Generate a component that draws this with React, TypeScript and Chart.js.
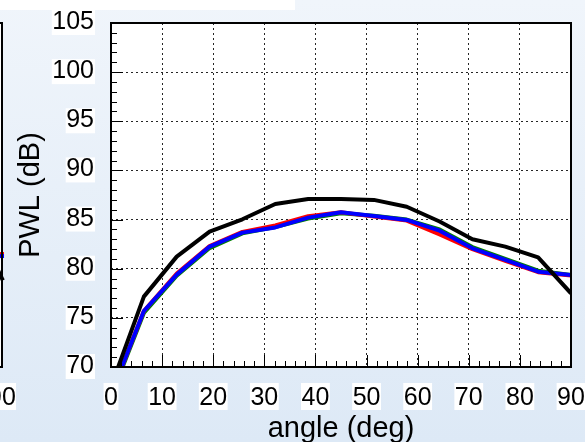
import React, { useEffect, useRef } from 'react';
import { Chart, registerables } from 'chart.js';

Chart.register(...registerables);

// ---- data ----
const angles = [0, 6.43, 12.86, 19.29, 25.71, 32.14, 38.57, 45, 51.43, 57.86, 64.29, 70.71, 77.14, 83.57, 90];
const blackPWL = [68.0, 77.16, 81.23, 83.77, 85.03, 86.59, 87.1, 87.1, 87.0, 86.3, 84.8, 83.0, 82.25, 81.16, 77.5];
const bluePWL = [67.2, 75.7, 79.4, 82.25, 83.67, 84.2, 85.2, 85.74, 85.37, 84.96, 83.87, 82.08, 80.9, 79.7, 79.36];
const redPWL = [67.2, 75.7, 79.5, 82.3, 83.75, 84.4, 85.35, 85.74, 85.3, 84.9, 83.5, 82.0, 80.8, 79.65, 79.3];
const greenPWL = [67.0, 75.5, 79.3, 82.1, 83.6, 84.25, 85.1, 85.65, 85.4, 85.0, 84.0, 82.2, 81.0, 79.8, 79.35];

// neighbouring chart, cut off at the left edge: only its last segment is visible
const leftAngles = [83.57, 90];
const leftBlack = [86.0, 79.0];
const leftBlue = [81.2, 81.3];
const leftRed = [81.4, 81.5];

const xTickLabels = [0, 10, 20, 30, 40, 50, 60, 70, 80, 90];
const yTickLabels = [70, 75, 80, 85, 90, 95, 100, 105];
const xTitle = 'angle (deg)';
const yTitle = 'PWL (dB)';

const FONT = "'Liberation Sans', Arial, Helvetica, sans-serif";

const framePlugin = {
  id: 'framePlugin',
  beforeDraw(chart: any) {
    const { ctx, chartArea: a } = chart;
    ctx.save();
    ctx.fillStyle = '#ffffff';
    ctx.fillRect(a.left, a.top, a.right - a.left, a.bottom - a.top);
    ctx.restore();
  },
  afterDatasetsDraw(chart: any) {
    const { ctx, chartArea: a, scales } = chart;
    const xs = scales.x;
    const ys = scales.y;
    ctx.save();
    ctx.strokeStyle = '#000';
    ctx.lineWidth = 1;
    // inner ticks on bottom axis
    for (let i = 0; i <= 45; i++) {
      const v = i * 2;
      const px = Math.round(xs.getPixelForValue(v)) + 0.5;
      const len = v % 10 === 0 ? 12 : 6;
      ctx.beginPath();
      ctx.moveTo(px, a.bottom);
      ctx.lineTo(px, a.bottom - len);
      ctx.stroke();
    }
    // inner ticks on left axis
    for (let v = 70; v <= 105; v++) {
      const py = Math.round(ys.getPixelForValue(v)) + 0.5;
      const len = v % 5 === 0 ? 12 : 6;
      ctx.beginPath();
      ctx.moveTo(a.left, py);
      ctx.lineTo(a.left + len, py);
      ctx.stroke();
    }
    // frame
    ctx.lineWidth = 2;
    ctx.strokeRect(a.left, a.top, a.right - a.left, a.bottom - a.top);

    // tick labels with white backdrops
    ctx.font = `25px ${FONT}`;
    ctx.textBaseline = 'alphabetic';
    ctx.textAlign = 'center';
    for (const v of xTickLabels) {
      const t = String(v);
      const w = ctx.measureText(t).width;
      const cx = xs.getPixelForValue(v);
      const base = a.bottom + 38;
      ctx.fillStyle = '#fff';
      ctx.fillRect(cx - w / 2 - 0.5, base - 22, w + 1, 27);
      ctx.fillStyle = '#000';
      ctx.fillText(t, cx, base);
    }
    ctx.textAlign = 'right';
    for (const v of yTickLabels) {
      const t = String(v);
      const w = ctx.measureText(t).width;
      const right = a.left - 17;
      const base = ys.getPixelForValue(v) + 6;
      ctx.fillStyle = '#fff';
      ctx.fillRect(right - w - 0.5, base - 19, w + 1.5, 25);
      ctx.fillStyle = '#000';
      ctx.fillText(t, right, base);
    }

    // axis titles
    ctx.font = `29px ${FONT}`;
    ctx.fillStyle = '#000';
    ctx.textAlign = 'center';
    ctx.fillText(xTitle, (a.left + a.right) / 2, a.bottom + 70);
    ctx.translate(a.left - 72, (a.top + a.bottom) / 2);
    ctx.rotate(-Math.PI / 2);
    ctx.fillText(yTitle, 0, 0);
    ctx.restore();
  },
};

type Series = { xs: number[]; ys: number[]; color: string };

function makeConfig(series: Series[], overhang: boolean): any {
  const axisCommon = {
    type: 'linear',
    grid: { color: 'rgba(0,0,0,0.85)', lineWidth: 1, drawTicks: false },
    border: { display: false, dash: [2, 3] },
  };
  return {
    type: 'line',
    data: {
      datasets: series.map((s) => ({
        data: s.xs.map((x, i) => ({ x, y: s.ys[i] })),
        borderColor: s.color,
        backgroundColor: s.color,
        borderWidth: 4,
        pointRadius: 0,
        fill: false,
        tension: 0,
        clip: overhang ? false : 0,
        borderCapStyle: overhang ? 'square' : 'butt',
        borderJoinStyle: 'round',
      })),
    },
    options: {
      responsive: false,
      animation: false,
      devicePixelRatio: 1,
      events: [],
      layout: { padding: { left: 111, top: 23, right: 14, bottom: 75 } },
      plugins: { legend: { display: false }, tooltip: { enabled: false } },
      scales: {
        x: {
          ...axisCommon,
          min: 0,
          max: 90,
          ticks: { display: false, stepSize: 10 },
          afterFit: (s: any) => { s.height = 0; },
        },
        y: {
          ...axisCommon,
          min: 70,
          max: 105,
          ticks: { display: false, stepSize: 5 },
          afterFit: (s: any) => { s.width = 0; },
        },
      },
    },
    plugins: [framePlugin],
  };
}

function PlotCanvas({ left, series, overhang }: { left: number; series: Series[]; overhang: boolean }) {
  const ref = useRef<HTMLCanvasElement | null>(null);
  useEffect(() => {
    if (!ref.current) return;
    const chart = new Chart(ref.current, makeConfig(series, overhang));
    return () => chart.destroy();
  }, []);
  return (
    <canvas
      ref={ref}
      width={585}
      height={442}
      style={{ position: 'absolute', left, top: 0, width: 585, height: 442, display: 'block' }}
    />
  );
}

export default function App() {
  const mainSeries: Series[] = [
    { xs: angles, ys: blackPWL, color: '#000000' },
    { xs: angles, ys: bluePWL, color: '#0000ff' },
    { xs: angles, ys: redPWL, color: '#ff0000' },
    { xs: angles, ys: greenPWL, color: '#008000' },
  ];
  const leftSeries: Series[] = [
    { xs: leftAngles, ys: leftBlack, color: '#000000' },
    { xs: leftAngles, ys: leftBlue, color: '#0000ff' },
    { xs: leftAngles, ys: leftRed, color: '#ff0000' },
  ];
  return (
    <>
      <style>{'body{margin:0}'}</style>
      <div
        style={{
          position: 'relative',
          width: 585,
          height: 442,
          overflow: 'hidden',
          background: 'linear-gradient(to bottom, #f0f5fb, #dde9f6)',
        }}
      >
        <div style={{ position: 'absolute', left: 0, top: 0, width: 295, height: 10, background: '#ffffff' }} />
        <PlotCanvas left={-569} series={leftSeries} overhang={true} />
        <PlotCanvas left={0} series={mainSeries} overhang={false} />
      </div>
    </>
  );
}
